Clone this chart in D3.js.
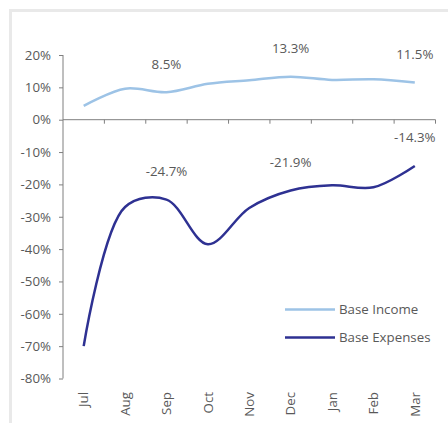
<!DOCTYPE html>
<html>
<head>
<meta charset="utf-8">
<script src="https://cdn.jsdelivr.net/npm/d3@7"></script>
<style>
  html, body { margin: 0; padding: 0; background: #fff; }
  svg { display: block; }
  text { font-family: "Open Sans", "Noto Sans", sans-serif; fill: #595959; }
</style>
</head>
<body>
<svg id="chart" width="448" height="423"></svg>
<script>
const months = ["Jul", "Aug", "Sep", "Oct", "Nov", "Dec", "Jan", "Feb", "Mar"];
const baseIncome = [4.3, 9.6, 8.5, 11.1, 12.2, 13.3, 12.3, 12.5, 11.5];
const baseExpenses = [-70.0, -27.0, -24.7, -38.5, -27.3, -21.9, -20.3, -20.9, -14.3];
const yTicks = [20, 10, 0, -10, -20, -30, -40, -50, -60, -70, -80];
const labelledIncome = ["Sep", "Dec", "Mar"];
const labelledExpenses = ["Sep", "Dec", "Mar"];
const seriesNames = ["Base Income", "Base Expenses"];
const seriesColors = ["#9dc3e6", "#2e3192"];

(function () {
const svg = d3.select("#chart");
const fs = "13.3px";

// border
svg.append("rect")
  .attr("x", 10.5).attr("y", 10.5)
  .attr("width", 460).attr("height", 440)
  .attr("fill", "none").attr("stroke", "#e9e9e9").attr("stroke-width", 3);

const mLeft = 63, mRight = 435.5, mTop = 55, mBottom = 378.5;

const x = d3.scaleBand().domain(months).range([mLeft, mRight]).padding(0);
const y = d3.scaleLinear().domain([-80, 20]).range([mBottom, mTop]);
const cx = m => x(m) + x.bandwidth() / 2;

// y axis
const yAxis = svg.append("g").attr("transform", `translate(${mLeft},0)`)
  .call(d3.axisLeft(y).tickValues(yTicks).tickSize(4).tickPadding(8).tickFormat(d => d + "%"));
yAxis.selectAll("path, line").attr("stroke", "#7f7f7f");
yAxis.select(".domain").attr("d", `M0,${y(20)}V${y(-80)}`);
yAxis.selectAll("text").style("font-size", fs).attr("fill", "#595959")
  .style("font-family", "'Open Sans', sans-serif");

// x axis at 0
const xg = svg.append("g").attr("transform", `translate(0,${y(0)})`);
xg.append("line").attr("x1", mLeft).attr("x2", mRight).attr("y1", 0).attr("y2", 0)
  .attr("stroke", "#7f7f7f");
const bounds = months.map(m => x(m) + x.bandwidth());
xg.selectAll("line.tk").data(bounds).enter().append("line").attr("class", "tk")
  .attr("x1", d => d).attr("x2", d => d).attr("y1", 0).attr("y2", 4)
  .attr("stroke", "#7f7f7f");

// month labels at bottom, rotated
svg.append("g").selectAll("text").data(months).enter().append("text")
  .attr("transform", d => `translate(${cx(d) + 4.8},392) rotate(-90)`)
  .attr("text-anchor", "end")
  .style("font-size", fs)
  .text(d => d);

// lines
const line = d3.line().x((d, i) => cx(months[i])).y(d => y(d)).curve(d3.curveCatmullRom.alpha(0.5));
svg.append("path").datum(baseIncome).attr("d", line)
  .attr("fill", "none").attr("stroke", seriesColors[0]).attr("stroke-width", 2.5);
svg.append("path").datum(baseExpenses).attr("d", line)
  .attr("fill", "none").attr("stroke", seriesColors[1]).attr("stroke-width", 2.5);

// data labels
function addLabels(vals, which) {
  svg.append("g").selectAll("text").data(which).enter().append("text")
    .attr("x", d => cx(d))
    .attr("y", d => y(vals[months.indexOf(d)]) - 23.5)
    .attr("text-anchor", "middle")
    .style("font-size", fs)
    .text(d => vals[months.indexOf(d)].toFixed(1) + "%");
}
addLabels(baseIncome, labelledIncome);
addLabels(baseExpenses, labelledExpenses);

// legend
const lg = svg.append("g");
seriesNames.forEach((n, i) => {
  const ly = 309.5 + i * 28;
  lg.append("line").attr("x1", 285).attr("x2", 335).attr("y1", ly).attr("y2", ly)
    .attr("stroke", seriesColors[i]).attr("stroke-width", 2.5);
  lg.append("text").attr("x", 339).attr("y", ly + 4.8)
    .style("font-size", fs).text(n);
});
})();
</script>
</body>
</html>
